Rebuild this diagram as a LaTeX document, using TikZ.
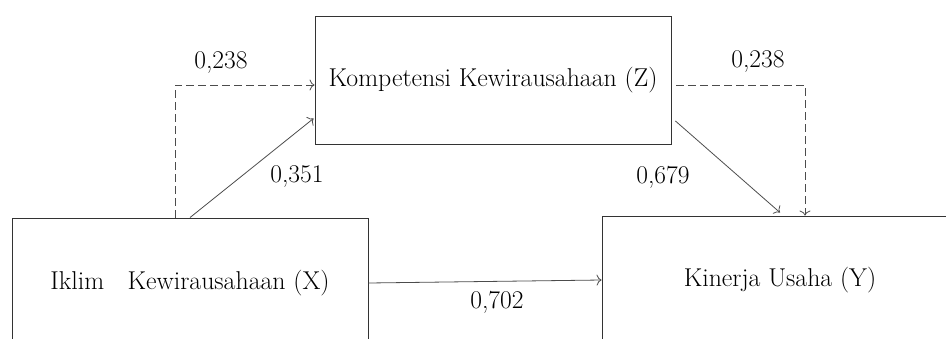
\documentclass[tikz,border=0pt]{standalone}
\usetikzlibrary{arrows.meta,calc}
\begin{document}
\begin{tikzpicture}[x=1pt,y=-1pt,
  box/.style={draw=black!80, line width=0.9pt, inner sep=0pt, minimum width=356pt, font=\fontsize{25.8}{30}\selectfont},
  conn/.style={draw=black!70, line width=0.8pt, -{To[length=5pt,width=11pt]}},
  dconn/.style={conn, dash pattern=on 8pt off 4pt},
  lbl/.style={font=\fontsize{25.5}{30}\selectfont, inner sep=0pt}]
\useasboundingbox (0,0) rectangle (946,338);
\clip (0,0) rectangle (946,338);
\node[box, minimum height=128pt] (Z) at (493,80) {Kompetensi Kewirausahaan (Z)};
\node[box, minimum height=130pt] (X) at (190,283) {Iklim\ \ \ Kewirausahaan (X)};
\node[box, minimum height=128pt] (Y) at (780,280) {Kinerja Usaha (Y)};
% connectors
\draw[dconn] ($(X.north)+(-15,0)$) |- ($(Z.west)+(0,5)$);
\draw[conn] (X.north) -- ($(Z.south west)+(-1,-26)$);
\draw[dconn] ($(Z.east)+(5,5)$) -| ($(Y.north)+(25,0)$);
\draw[conn] ($(Z.east)+(4,41)$) -- ($(Y.north)+(0,-3)$);
\draw[conn] (X.east) -- (Y.west);
% labels
\node[lbl] (l1) at (221,63) {0,238};
\node[lbl] (l2) at (758,62) {0,238};
\node[lbl] (l3) at (297,177) {0,351};
\node[lbl] (l4) at (663,177) {0,679};
\node[lbl] (l5) at (497,302) {0,702};
\end{tikzpicture}
\end{document}
